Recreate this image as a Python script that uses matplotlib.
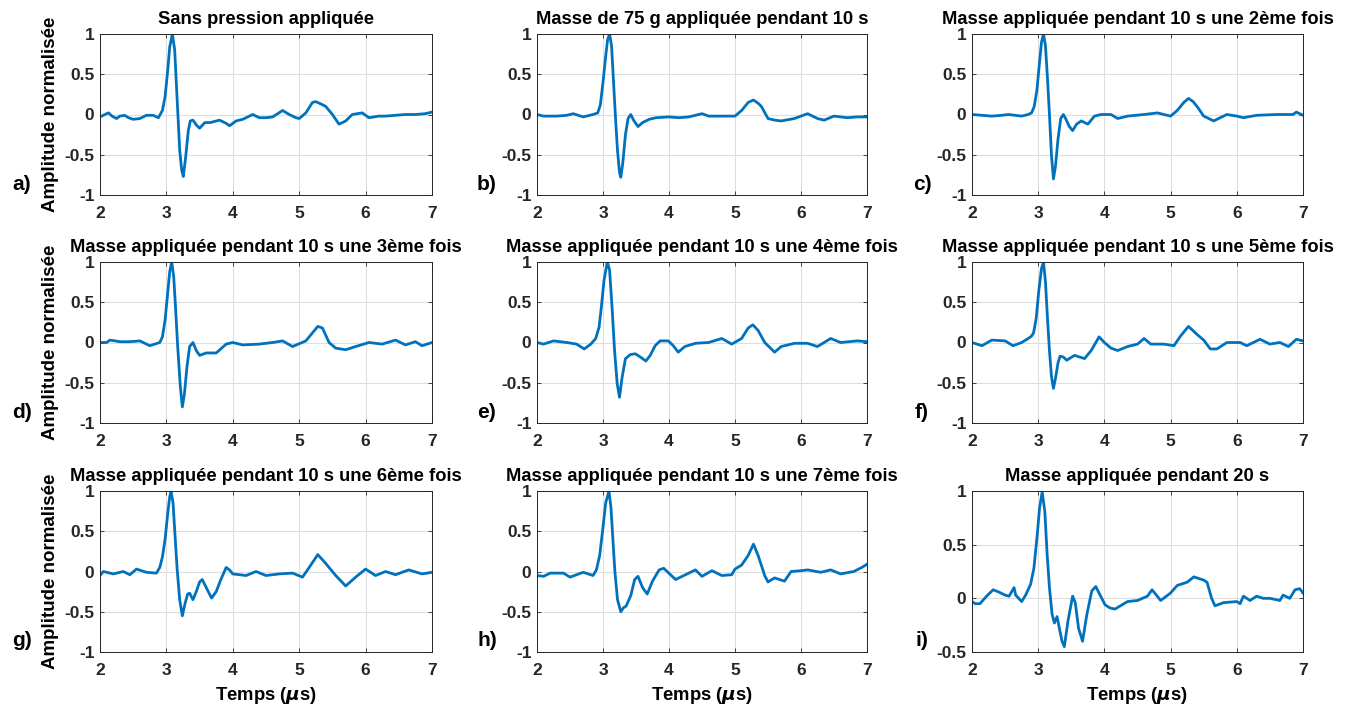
import matplotlib
matplotlib.use("Agg")
import matplotlib.pyplot as plt

# ---- data (time in us, normalised amplitude) ----
t_a = [2.0, 2.05, 2.1, 2.13, 2.18, 2.25, 2.3, 2.37, 2.43, 2.5, 2.6, 2.7, 2.8, 2.88, 2.94, 2.98, 3.02, 3.05,
       3.09, 3.125, 3.155, 3.18, 3.2, 3.23, 3.255, 3.29, 3.33, 3.36, 3.4, 3.45, 3.5, 3.58, 3.66, 3.8, 3.9,
       3.95, 4.05, 4.15, 4.3, 4.4, 4.5, 4.6, 4.75, 4.85, 4.95, 5.0, 5.1, 5.2, 5.25, 5.33, 5.4, 5.5, 5.6,
       5.7, 5.8, 5.95, 6.05, 6.2, 6.3, 6.45, 6.6, 6.75, 6.9, 7.0]
y_a = [-0.03, -0.01, 0.01, 0.02, -0.02, -0.05, -0.02, -0.01, -0.04, -0.06, -0.05, -0.01, -0.01, -0.04, 0.05,
       0.22, 0.55, 0.84, 1.0, 0.8, 0.3, -0.11, -0.44, -0.69, -0.77, -0.53, -0.2, -0.08, -0.07, -0.13, -0.17,
       -0.1, -0.1, -0.07, -0.11, -0.14, -0.08, -0.06, 0.0, -0.04, -0.04, -0.03, 0.05, 0.0, -0.04, -0.05, 0.02,
       0.15, 0.16, 0.13, 0.1, 0.0, -0.12, -0.08, 0.0, 0.02, -0.04, -0.02, -0.02, -0.01, 0.0, 0.0, 0.01, 0.03]

t_b = [2.0, 2.1, 2.2, 2.3, 2.45, 2.55, 2.7, 2.85, 2.92, 2.96, 3.0, 3.04, 3.07, 3.1, 3.13, 3.16, 3.19, 3.22,
       3.25, 3.27, 3.3, 3.34, 3.38, 3.42, 3.47, 3.53, 3.6, 3.7, 3.8, 4.0, 4.15, 4.3, 4.5, 4.6, 4.8, 5.0, 5.1,
       5.2, 5.28, 5.35, 5.4, 5.5, 5.6, 5.7, 5.9, 6.1, 6.25, 6.35, 6.5, 6.7, 6.85, 7.0]
y_b = [0.0, -0.02, -0.02, -0.02, -0.01, 0.01, -0.03, 0.0, 0.02, 0.12, 0.4, 0.72, 0.93, 1.0, 0.85, 0.4, -0.05,
       -0.45, -0.72, -0.78, -0.6, -0.25, -0.05, 0.0, -0.08, -0.15, -0.1, -0.06, -0.04, -0.03, -0.04, -0.03,
       0.01, -0.02, -0.02, -0.02, 0.05, 0.15, 0.18, 0.14, 0.1, -0.05, -0.07, -0.08, -0.05, 0.01, -0.05, -0.07,
       -0.02, -0.04, -0.03, -0.03]

t_c = [2.0, 2.15, 2.3, 2.45, 2.55, 2.75, 2.85, 2.9, 2.94, 2.98, 3.02, 3.05, 3.08, 3.11, 3.14, 3.17, 3.2, 3.23,
       3.26, 3.3, 3.34, 3.38, 3.42, 3.47, 3.52, 3.58, 3.65, 3.75, 3.85, 3.95, 4.1, 4.2, 4.35, 4.6, 4.8, 5.0,
       5.1, 5.2, 5.27, 5.34, 5.4, 5.5, 5.65, 5.85, 6.0, 6.1, 6.3, 6.6, 6.85, 6.9, 7.0]
y_c = [0.0, -0.01, -0.02, -0.01, 0.0, -0.02, 0.0, 0.02, 0.1, 0.3, 0.65, 0.9, 1.0, 0.85, 0.45, 0.0, -0.5, -0.8,
       -0.65, -0.3, -0.05, 0.0, -0.06, -0.15, -0.2, -0.12, -0.08, -0.12, -0.02, 0.0, 0.0, -0.05, -0.02, 0.0,
       0.02, -0.02, 0.05, 0.15, 0.2, 0.16, 0.1, -0.02, -0.08, 0.0, -0.02, -0.04, -0.01, 0.0, 0.0, 0.03, -0.01]

t_d = [2.0, 2.1, 2.15, 2.3, 2.45, 2.6, 2.75, 2.9, 2.94, 2.98, 3.02, 3.05, 3.08, 3.11, 3.14, 3.17, 3.21, 3.24,
       3.27, 3.31, 3.35, 3.4, 3.45, 3.5, 3.6, 3.75, 3.9, 4.0, 4.15, 4.4, 4.6, 4.75, 4.9, 5.1, 5.2, 5.28, 5.35,
       5.45, 5.55, 5.7, 5.85, 6.05, 6.25, 6.45, 6.6, 6.75, 6.85, 7.0]
y_d = [0.0, 0.0, 0.03, 0.01, 0.01, 0.02, -0.04, 0.0, 0.07, 0.28, 0.62, 0.88, 1.0, 0.82, 0.4, -0.05, -0.55,
       -0.8, -0.65, -0.3, -0.05, 0.0, -0.1, -0.16, -0.13, -0.13, -0.02, 0.0, -0.03, -0.02, 0.0, 0.02, -0.05,
       0.02, 0.12, 0.2, 0.18, 0.0, -0.07, -0.09, -0.05, 0.0, -0.02, 0.03, -0.03, 0.01, -0.04, 0.0]

t_e = [2.0, 2.1, 2.25, 2.45, 2.6, 2.715, 2.815, 2.89, 2.94, 2.975, 3.015, 3.065, 3.1, 3.14, 3.175, 3.215, 3.25,
       3.29, 3.34, 3.415, 3.49, 3.565, 3.65, 3.715, 3.79, 3.865, 3.99, 4.065, 4.14, 4.24, 4.4, 4.6, 4.8, 4.95,
       5.1, 5.2, 5.27, 5.35, 5.45, 5.6, 5.7, 5.9, 6.1, 6.25, 6.45, 6.6, 6.85, 7.0]
y_e = [0.0, -0.02, 0.02, 0.0, -0.02, -0.08, -0.02, 0.05, 0.19, 0.44, 0.77, 1.0, 0.9, 0.4, -0.1, -0.51, -0.68,
       -0.43, -0.2, -0.15, -0.14, -0.18, -0.23, -0.16, -0.04, 0.02, 0.02, -0.04, -0.12, -0.05, -0.01, 0.0, 0.05,
       -0.02, 0.05, 0.18, 0.22, 0.15, 0.0, -0.12, -0.05, -0.01, -0.01, -0.05, 0.05, 0.0, 0.02, 0.01]

t_f = [2.0, 2.15, 2.3, 2.5, 2.62, 2.75, 2.85, 2.9, 2.93, 2.97, 3.01, 3.05, 3.08, 3.11, 3.14, 3.17, 3.2, 3.23,
       3.26, 3.3, 3.33, 3.38, 3.43, 3.55, 3.7, 3.8, 3.92, 4.0, 4.1, 4.2, 4.35, 4.5, 4.6, 4.7, 4.9, 5.05, 5.15,
       5.27, 5.4, 5.5, 5.6, 5.7, 5.85, 6.05, 6.15, 6.35, 6.5, 6.65, 6.78, 6.9, 7.0]
y_f = [0.0, -0.04, 0.03, 0.02, -0.04, 0.0, 0.05, 0.08, 0.12, 0.3, 0.65, 0.92, 1.0, 0.75, 0.3, -0.1, -0.42,
       -0.57, -0.45, -0.25, -0.17, -0.18, -0.22, -0.16, -0.2, -0.1, 0.07, 0.0, -0.07, -0.1, -0.05, -0.02, 0.05,
       -0.02, -0.02, -0.04, 0.08, 0.2, 0.1, 0.03, -0.08, -0.08, 0.0, 0.0, -0.04, 0.04, -0.02, 0.0, -0.05, 0.04,
       0.02]

t_g = [2.0, 2.05, 2.2, 2.35, 2.45, 2.55, 2.7, 2.85, 2.9, 2.94, 2.98, 3.02, 3.05, 3.07, 3.1, 3.13, 3.16, 3.2,
       3.24, 3.28, 3.32, 3.35, 3.4, 3.45, 3.5, 3.54, 3.6, 3.68, 3.75, 3.82, 3.9, 3.95, 4.0, 4.2, 4.35, 4.5,
       4.7, 4.9, 5.05, 5.15, 5.28, 5.4, 5.55, 5.7, 5.85, 6.0, 6.15, 6.3, 6.45, 6.65, 6.85, 7.0]
y_g = [-0.05, 0.0, -0.03, 0.0, -0.04, 0.03, -0.01, -0.02, 0.05, 0.18, 0.4, 0.72, 0.93, 1.0, 0.85, 0.45, 0.05,
       -0.35, -0.55, -0.4, -0.28, -0.27, -0.35, -0.25, -0.13, -0.1, -0.2, -0.33, -0.25, -0.1, 0.05, 0.02, -0.03,
       -0.05, 0.0, -0.05, -0.03, -0.02, -0.07, 0.05, 0.21, 0.1, -0.05, -0.18, -0.07, 0.03, -0.05, 0.0, -0.04,
       0.02, -0.03, -0.01]

t_h = [2.0, 2.1, 2.2, 2.4, 2.5, 2.7, 2.85, 2.9, 2.95, 3.0, 3.04, 3.09, 3.12, 3.15, 3.18, 3.22, 3.27, 3.31, 3.35,
       3.42, 3.48, 3.53, 3.6, 3.67, 3.75, 3.85, 3.92, 4.1, 4.3, 4.4, 4.5, 4.65, 4.8, 4.95, 5.0, 5.1, 5.2, 5.28,
       5.35, 5.45, 5.5, 5.6, 5.75, 5.85, 6.0, 6.1, 6.3, 6.45, 6.6, 6.8, 6.92, 7.0]
y_h = [-0.05, -0.06, -0.02, -0.02, -0.07, -0.01, -0.05, 0.02, 0.2, 0.55, 0.85, 1.0, 0.8, 0.4, 0.0, -0.35, -0.5,
       -0.45, -0.43, -0.3, -0.1, -0.06, -0.2, -0.28, -0.12, 0.02, 0.04, -0.1, -0.02, 0.02, -0.06, 0.01, -0.05,
       -0.04, 0.03, 0.08, 0.2, 0.34, 0.2, -0.05, -0.13, -0.08, -0.12, 0.0, 0.01, 0.02, -0.01, 0.02, -0.03, 0.0,
       0.05, 0.09]

t_i = [2.0, 2.05, 2.12, 2.22, 2.32, 2.4, 2.5, 2.56, 2.635, 2.66, 2.75, 2.81, 2.885, 2.935, 2.985, 3.02, 3.06,
       3.1, 3.135, 3.17, 3.21, 3.245, 3.285, 3.32, 3.36, 3.395, 3.45, 3.52, 3.56, 3.61, 3.67, 3.735, 3.81, 3.87,
       3.935, 4.01, 4.085, 4.16, 4.35, 4.5, 4.65, 4.72, 4.85, 5.0, 5.1, 5.25, 5.35, 5.5, 5.55, 5.62, 5.67, 5.8,
       6.0, 6.05, 6.1, 6.2, 6.3, 6.4, 6.5, 6.65, 6.7, 6.8, 6.88, 6.95, 7.0]
y_i = [-0.03, -0.05, -0.05, 0.02, 0.08, 0.06, 0.03, 0.02, 0.1, 0.03, -0.03, 0.03, 0.13, 0.28, 0.59, 0.84, 0.99,
       0.81, 0.41, 0.1, -0.15, -0.23, -0.17, -0.28, -0.4, -0.45, -0.21, 0.02, -0.04, -0.28, -0.4, -0.15, 0.07,
       0.11, 0.03, -0.06, -0.09, -0.1, -0.03, -0.02, 0.02, 0.08, -0.02, 0.05, 0.12, 0.15, 0.2, 0.17, 0.15, 0.0,
       -0.07, -0.04, -0.03, -0.05, 0.02, -0.02, 0.02, 0.0, 0.0, -0.02, 0.03, 0.0, 0.08, 0.09, 0.05]

titles = ["Sans pression appliquée",
          "Masse de 75 g appliquée pendant 10 s",
          "Masse appliquée pendant 10 s une 2ème fois",
          "Masse appliquée pendant 10 s une 3ème fois",
          "Masse appliquée pendant 10 s une 4ème fois",
          "Masse appliquée pendant 10 s une 5ème fois",
          "Masse appliquée pendant 10 s une 6ème fois",
          "Masse appliquée pendant 10 s une 7ème fois",
          "Masse appliquée pendant 20 s"]
letters = ["a)", "b)", "c)", "d)", "e)", "f)", "g)", "h)", "i)"]
ylims = [(-1, 1)] * 8 + [(-0.5, 1)]
yticks_full = [-1, -0.5, 0, 0.5, 1]
yticks_last = [-0.5, 0, 0.5, 1]
xticks = [2, 3, 4, 5, 6, 7]

series = [(t_a, y_a), (t_b, y_b), (t_c, y_c), (t_d, y_d), (t_e, y_e),
          (t_f, y_f), (t_g, y_g), (t_h, y_h), (t_i, y_i)]

# ---- layout ----
W, H = 1356, 706
plt.rcParams['font.family'] = ['Liberation Sans', 'DejaVu Sans']
plt.rcParams['font.weight'] = 'bold'
plt.rcParams['axes.unicode_minus'] = False

fig = plt.figure(figsize=(W / 100, H / 100), dpi=100)

col_left = [100, 537, 972]
col_width = [332, 330, 331]
row_top = [34, 262, 491]
row_height = 161
label_dx = [-78, -50, -50]

line_color = '#0072BD'


def fmt(v):
    return "%g" % v


for k, (t, y) in enumerate(series):
    r, c = divmod(k, 3)
    left = col_left[c] / W
    bottom = 1 - (row_top[r] + row_height) / H
    ax = fig.add_axes([left, bottom, col_width[c] / W, row_height / H])
    ax.plot(t, y, color=line_color, lw=2.0, solid_joinstyle='round')
    ax.set_xlim(2, 7)
    ax.set_ylim(*ylims[k])
    ax.set_xticks(xticks)
    ax.set_xticklabels([fmt(v) for v in xticks])
    yt = yticks_last if k == 8 else yticks_full
    ax.set_yticks(yt)
    ax.set_yticklabels([fmt(v) for v in yt])
    ax.grid(True, color='#dedede', lw=0.8)
    ax.set_axisbelow(True)
    ax.tick_params(direction='in', length=3, labelsize=12.5, colors='#262626',
                   width=0.6, top=True, right=True)
    ax.tick_params(axis='x', pad=8)
    ax.tick_params(axis='y', pad=4)
    for lbl in ax.get_xticklabels() + ax.get_yticklabels():
        lbl.set_fontweight('bold')
    for s in ax.spines.values():
        s.set_color('#262626')
        s.set_linewidth(0.7)
    ax.set_title(titles[k], fontsize=13.2, fontweight='bold', pad=7)
    if c == 0:
        ax.set_ylabel("Amplitude normalisée", fontsize=13.5, fontweight='bold', labelpad=4)
    if r == 2:
        ax.set_xlabel(r"Temps ($\mu$s)", fontsize=13.3, fontweight='bold', labelpad=5)
    fig.text((col_left[c] + label_dx[c]) / W, 1 - (row_top[r] + 150) / H, letters[k],
             fontsize=15, fontweight='bold', ha='center', va='center')

fig.savefig("out.png", dpi=100)
